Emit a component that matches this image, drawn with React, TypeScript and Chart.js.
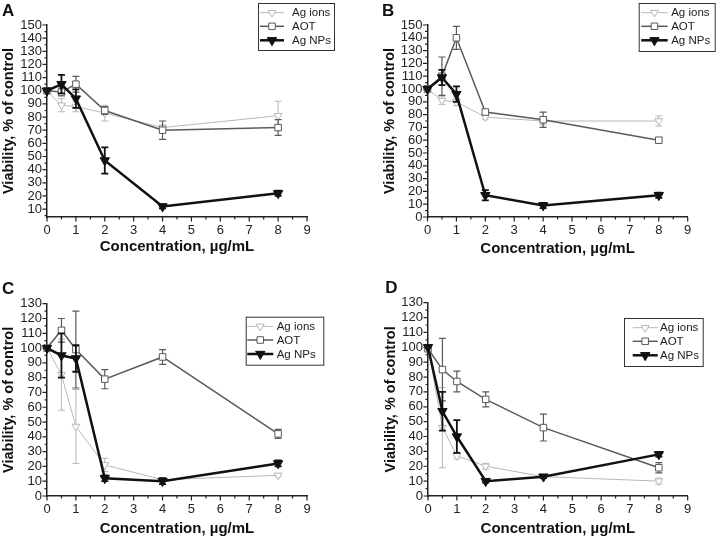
import React, { useEffect, useRef } from "react";
import { Chart, registerables } from "chart.js";

Chart.register(...registerables);

const FONT = '"Liberation Sans", Arial, Helvetica, sans-serif';

// ---------- data ----------
const concentrations = [0, 0.5, 1, 2, 4, 8];
const xTickLabels = [0, 1, 2, 3, 4, 5, 6, 7, 8, 9];
const yTickLabelsA = [10, 20, 30, 40, 50, 60, 70, 80, 90, 100, 110, 120, 130, 140, 150];
const yTickLabelsB = [0, 10, 20, 30, 40, 50, 60, 70, 80, 90, 100, 110, 120, 130, 140, 150];
const yTickLabelsCD = [0, 10, 20, 30, 40, 50, 60, 70, 80, 90, 100, 110, 120, 130];
const seriesNames = ["Ag ions", "AOT", "Ag NPs"];

const ionsA = [100, 89, 88, 83, 72, 81];
const ionsErrA = [0, 5, 4, 6, 2, 11];
const aotA = [100, 99, 105, 85, 70, 72];
const aotErrA = [0, 3, 6, 3, 7, 6];
const npsA = [100, 105, 94, 47, 12, 22];
const npsErrA = [0, 7, 7, 10, 1.5, 2];

const ionsB = [100, 91, 90, 78, 75, 75];
const ionsErrB = [0, 3, 3, 2, 3, 4];
const aotB = [100, 110, 140, 82, 76, 60];
const aotErrB = [0, 15, 9, 2, 6, 2];
const npsB = [100, 109, 96, 17, 9, 17];
const npsErrB = [0, 6, 6, 4, 2, 2];

const ionsC = [100, 82, 47, 21, 11, 14];
const ionsErrC = [0, 24, 25, 4.5, 1, 1];
const aotC = [100, 112, 99, 79, 94, 42];
const aotErrC = [0, 8, 26, 6.5, 5, 3];
const npsC = [100, 95, 93, 12, 10, 22];
const npsErrC = [0, 15, 9, 2, 2, 2];

const ionsD = [100, 46, 27, 20, 13, 10];
const ionsErrD = [0, 27, 2, 2, 1, 2];
const aotD = [99, 85, 77, 65, 46, 19];
const aotErrD = [0, 21, 7, 5, 9, 3.5];
const npsD = [100, 57, 40, 10, 13, 28];
const npsErrD = [0, 13, 11, 1, 1, 1.5];

// ---------- styles ----------
const STYLES = [
  { color: "#b8b8b8", width: 1, shape: "tri", fill: "#ffffff", radius: 4.5, order: 3, errWidth: 1 },
  { color: "#5a5a5a", width: 1.5, shape: "sq", fill: "#ffffff", radius: 4.6, order: 2, errWidth: 1.2 },
  { color: "#111111", width: 2.5, shape: "tri", fill: "#111111", radius: 5.4, order: 1, errWidth: 1.8 },
];

type Panel = {
  letter: string;
  left: number;
  top: number;
  plotLeft: number;
  plotRight: number;
  plotTop: number;
  plotBottom: number;
  titleCenterX: number;
  padBottom: number;
  yMin: number;
  yMax: number;
  yLabels: number[];
  values: number[][];
  errors: number[][];
  legend: { x: number; y: number; w: number; h: number; l0: number; l1: number; t: number };
  letterPos: { x: number; y: number };
};

const W = 358;
const H = 268;

const panels: Panel[] = [
  {
    letter: "A", left: 0, top: 0,
    plotLeft: 47, plotRight: 307, plotTop: 25, plotBottom: 217,
    titleCenterX: 8.6, padBottom: 12,
    yMin: 4, yMax: 150, yLabels: yTickLabelsA,
    values: [ionsA, aotA, npsA], errors: [ionsErrA, aotErrA, npsErrA],
    legend: { x: 258, y: 3, w: 76, h: 47, l0: 2, l1: 26, t: 34 },
    letterPos: { x: 2, y: 15.5 },
  },
  {
    letter: "B", left: 358, top: 0,
    plotLeft: 69.5, plotRight: 329.7, plotTop: 25, plotBottom: 217,
    titleCenterX: 31.5, padBottom: 10,
    yMin: 0, yMax: 150, yLabels: yTickLabelsB,
    values: [ionsB, aotB, npsB], errors: [ionsErrB, aotErrB, npsErrB],
    legend: { x: 280.7, y: 3, w: 76, h: 48, l0: 2.5, l1: 29, t: 32.5 },
    letterPos: { x: 24, y: 15.5 },
  },
  {
    letter: "C", left: 0, top: 268,
    plotLeft: 47, plotRight: 307, plotTop: 35.7, plotBottom: 228,
    titleCenterX: 8.6, padBottom: -2,
    yMin: 0, yMax: 130, yLabels: yTickLabelsCD,
    values: [ionsC, aotC, npsC], errors: [ionsErrC, aotErrC, npsErrC],
    legend: { x: 245.7, y: 48.7, w: 77.6, h: 48, l0: 1.6, l1: 27.6, t: 31 },
    letterPos: { x: 2, y: 26.3 },
  },
  {
    letter: "D", left: 358, top: 268,
    plotLeft: 70, plotRight: 329.7, plotTop: 34.7, plotBottom: 228,
    titleCenterX: 33, padBottom: -2,
    yMin: 0, yMax: 130, yLabels: yTickLabelsCD,
    values: [ionsD, aotD, npsD], errors: [ionsErrD, aotErrD, npsErrD],
    legend: { x: 266, y: 50, w: 78.7, h: 48, l0: 8.7, l1: 33.7, t: 36 },
    letterPos: { x: 27.3, y: 24.7 },
  },
];

function drawMarker(ctx: CanvasRenderingContext2D, shape: string, x: number, y: number, r: number, stroke: string, fill: string) {
  ctx.save();
  ctx.beginPath();
  if (shape === "tri") {
    ctx.moveTo(x - r * 0.866, y - r * 0.5);
    ctx.lineTo(x + r * 0.866, y - r * 0.5);
    ctx.lineTo(x, y + r);
    ctx.closePath();
  } else {
    const s = r * Math.SQRT1_2;
    ctx.rect(x - s, y - s, 2 * s, 2 * s);
  }
  ctx.fillStyle = fill;
  ctx.fill();
  ctx.strokeStyle = stroke;
  ctx.lineWidth = 1;
  ctx.stroke();
  ctx.restore();
}

function makeDecor(p: Panel) {
  return {
    id: "decor" + p.letter,
    beforeDatasetDraw(chart: any, args: any) {
      const ds = chart.data.datasets[args.index];
      const st = STYLES[args.index];
      const errs: number[] = ds.errorBars;
      const ys = chart.scales.y;
      const ctx = chart.ctx;
      ctx.save();
      ctx.strokeStyle = st.color;
      ctx.lineWidth = st.errWidth;
      args.meta.data.forEach((pt: any, i: number) => {
        const e = errs[i];
        if (!e) return;
        const v = ds.data[i].y;
        const y1 = ys.getPixelForValue(v + e);
        const y2 = ys.getPixelForValue(v - e);
        const x = pt.x;
        ctx.beginPath();
        ctx.moveTo(x, y1);
        ctx.lineTo(x, y2);
        ctx.moveTo(x - 3.5, y1);
        ctx.lineTo(x + 3.5, y1);
        ctx.moveTo(x - 3.5, y2);
        ctx.lineTo(x + 3.5, y2);
        ctx.stroke();
      });
      ctx.restore();
    },
    afterDraw(chart: any) {
      const ctx = chart.ctx;
      const ca = chart.chartArea;
      const xs = chart.scales.x;
      const ys = chart.scales.y;
      ctx.save();
      // axis tick marks (major + minor)
      ctx.strokeStyle = "#222";
      ctx.lineWidth = 1.2;
      ctx.beginPath();
      for (let k = 0; k <= 18; k++) {
        const v = k * 0.5;
        const px = xs.getPixelForValue(v);
        const len = k % 2 === 0 ? 4.5 : 2.5;
        ctx.moveTo(px, ca.bottom);
        ctx.lineTo(px, ca.bottom + len);
      }
      for (let v = Math.ceil(p.yMin / 5) * 5; v <= p.yMax; v += 5) {
        const py = ys.getPixelForValue(v);
        const len = v % 10 === 0 ? 4.5 : 2.5;
        ctx.moveTo(ca.left, py);
        ctx.lineTo(ca.left - len, py);
      }
      ctx.stroke();

      // panel letter
      ctx.fillStyle = "#111";
      ctx.font = "bold 17px " + FONT;
      ctx.textBaseline = "alphabetic";
      ctx.textAlign = "left";
      ctx.fillText(p.letter, p.letterPos.x, p.letterPos.y);

      // legend
      const L = p.legend;
      ctx.strokeStyle = "#333";
      ctx.lineWidth = 1;
      ctx.strokeRect(L.x + 0.5, L.y + 0.5, L.w, L.h);
      const rows = [L.y + 9.7, L.y + 23.3, L.y + 37.3];
      ctx.font = "11.5px " + FONT;
      ctx.textBaseline = "middle";
      seriesNames.forEach((name, i) => {
        const st = STYLES[i];
        const ry = rows[i];
        ctx.strokeStyle = st.color;
        ctx.lineWidth = st.width;
        ctx.beginPath();
        ctx.moveTo(L.x + L.l0, ry);
        ctx.lineTo(L.x + L.l1, ry);
        ctx.stroke();
        drawMarker(ctx, st.shape, L.x + (L.l0 + L.l1) / 2, ry, st.radius, st.color, st.fill);
        ctx.fillStyle = "#222";
        ctx.fillText(name, L.x + L.t, ry + 0.5);
      });
      ctx.restore();
    },
  };
}

function PanelChart({ p }: { p: Panel }) {
  const ref = useRef<HTMLCanvasElement | null>(null);
  useEffect(() => {
    if (!ref.current) return;
    const datasets = p.values.map((vals, i) => {
      const st = STYLES[i];
      return {
        label: seriesNames[i],
        data: concentrations.map((c, j) => ({ x: c, y: vals[j] })),
        errorBars: p.errors[i],
        borderColor: st.color,
        borderWidth: st.width,
        backgroundColor: st.fill,
        pointBackgroundColor: st.fill,
        pointBorderColor: st.color,
        pointBorderWidth: 1,
        pointStyle: st.shape === "tri" ? "triangle" : "rect",
        rotation: st.shape === "tri" ? 180 : 0,
        pointRadius: st.radius,
        pointHoverRadius: st.radius,
        tension: 0,
        fill: false,
        clip: false,
        order: st.order,
      };
    });
    const tickFont = { family: FONT, size: 13 };
    const chart = new Chart(ref.current, {
      type: "line",
      data: { datasets } as any,
      options: {
        animation: false,
        responsive: false,
        maintainAspectRatio: false,
        events: [],
        layout: {
          padding: {
            left: p.titleCenterX - 8.7,
            top: p.plotTop,
            right: W - p.plotRight,
            bottom: p.padBottom,
          },
        },
        plugins: {
          legend: { display: false },
          tooltip: { enabled: false },
          title: { display: false },
        },
        scales: {
          x: {
            type: "linear",
            min: 0,
            max: 9,
            grid: { display: false, drawTicks: false },
            border: { display: true, color: "#222", width: 1.5 },
            afterBuildTicks: (s: any) => {
              s.ticks = xTickLabels.map((v) => ({ value: v }));
            },
            afterFit: (s: any) => {
              s.height = H - p.padBottom - p.plotBottom;
            },
            ticks: { padding: 6, font: tickFont, color: "#222", autoSkip: false, maxRotation: 0 },
            title: {
              display: true,
              text: "Concentration, µg/mL",
              font: { family: FONT, size: 15, weight: "bold" },
              color: "#111",
              padding: 0,
            },
          },
          y: {
            type: "linear",
            min: p.yMin,
            max: p.yMax,
            grid: { display: false, drawTicks: false },
            border: { display: true, color: "#222", width: 1.5 },
            afterBuildTicks: (s: any) => {
              s.ticks = p.yLabels.map((v) => ({ value: v }));
            },
            afterFit: (s: any) => {
              s.width = p.plotLeft - (p.titleCenterX - 8.7);
            },
            ticks: { padding: 5, font: tickFont, color: "#222", autoSkip: false },
            title: {
              display: true,
              text: "Viability, % of control",
              font: { family: FONT, size: 14.5, weight: "bold" },
              color: "#111",
              padding: 0,
            },
          },
        },
      } as any,
      plugins: [makeDecor(p)],
    });
    return () => chart.destroy();
  }, [p]);
  return (
    <canvas
      ref={ref}
      width={W}
      height={H}
      style={{ position: "absolute", left: p.left, top: p.top, width: W, height: H }}
    />
  );
}

export default function App() {
  return (
    <div
      style={{
        position: "absolute",
        left: 0,
        top: 0,
        width: 716,
        height: 536,
        background: "#fff",
        overflow: "hidden",
      }}
    >
      {panels.map((p) => (
        <PanelChart key={p.letter} p={p} />
      ))}
    </div>
  );
}
